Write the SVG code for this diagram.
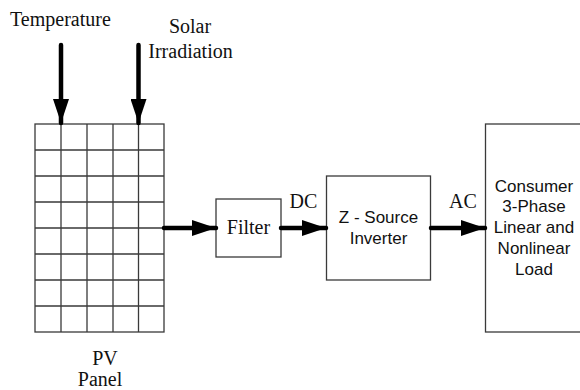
<svg xmlns="http://www.w3.org/2000/svg" width="580" height="390" viewBox="0 0 580 390">
<defs>
<style>
.box{fill:#fff;stroke:#3a3a3a;stroke-width:1.3}
.grid{stroke:#3a3a3a;stroke-width:1.3;fill:none}
.tm{font-family:"Liberation Serif","Times New Roman",serif;font-size:20px;fill:#111}
.ar{font-family:"Liberation Sans",Arial,sans-serif;font-size:17px;fill:#111}
.conn{stroke:#000;stroke-width:4.5;stroke-linecap:round;fill:none;marker-end:url(#ah)}
</style>
<marker id="ah" markerUnits="userSpaceOnUse" markerWidth="24" markerHeight="16" refX="24" refY="8" orient="auto">
<path d="M0,0 L24,8 L0,16 Z" fill="#000"/>
</marker>
</defs>
<rect width="580" height="390" fill="#fff"/>
<g id="temperature">
<text class="tm" x="10" y="26">Temperature</text>
</g>
<g id="solar">
<text class="tm" x="190" y="33" text-anchor="middle">Solar</text>
<text class="tm" x="190.5" y="58" text-anchor="middle">Irradiation</text>
</g>
<g id="pv-panel">
<rect class="box" x="35" y="124" width="129" height="208"/>
<path class="grid" d="M61,124V332M87,124V332M113,124V332M138.5,124V332M35,150H164M35,176H164M35,202H164M35,228H164M35,254H164M35,280H164M35,306H164"/>
<text class="tm" x="105" y="365" text-anchor="middle">PV</text>
<text class="tm" x="100" y="386" text-anchor="middle">Panel</text>
</g>
<g id="filter">
<rect class="box" x="216" y="199" width="65" height="58"/>
<text class="tm" x="248.5" y="234" text-anchor="middle">Filter</text>
</g>
<g id="z-source-inverter">
<rect class="box" x="326.5" y="176" width="104" height="104"/>
<text class="ar" x="378.5" y="223" text-anchor="middle">Z - Source</text>
<text class="ar" x="378.5" y="244" text-anchor="middle">Inverter</text>
</g>
<g id="load">
<rect class="box" x="485.5" y="124" width="200" height="208"/>
<text class="ar" x="534" y="192" text-anchor="middle">Consumer</text>
<text class="ar" x="534" y="212" text-anchor="middle">3-Phase</text>
<text class="ar" x="534" y="233" text-anchor="middle">Linear and</text>
<text class="ar" x="534" y="254" text-anchor="middle">Nonlinear</text>
<text class="ar" x="534" y="275" text-anchor="middle">Load</text>
</g>
<g id="connectors">
<line class="conn" x1="61" y1="45" x2="61" y2="123"/>
<line class="conn" x1="138.5" y1="45" x2="138.5" y2="123"/>
<line class="conn" x1="164" y1="228" x2="216" y2="228"/>
<line class="conn" x1="281" y1="228" x2="326" y2="228"/>
<line class="conn" x1="431" y1="228" x2="485" y2="228"/>
<text class="tm" x="303.5" y="208" text-anchor="middle">DC</text>
<text class="tm" x="463" y="208" text-anchor="middle">AC</text>
</g>
</svg>
